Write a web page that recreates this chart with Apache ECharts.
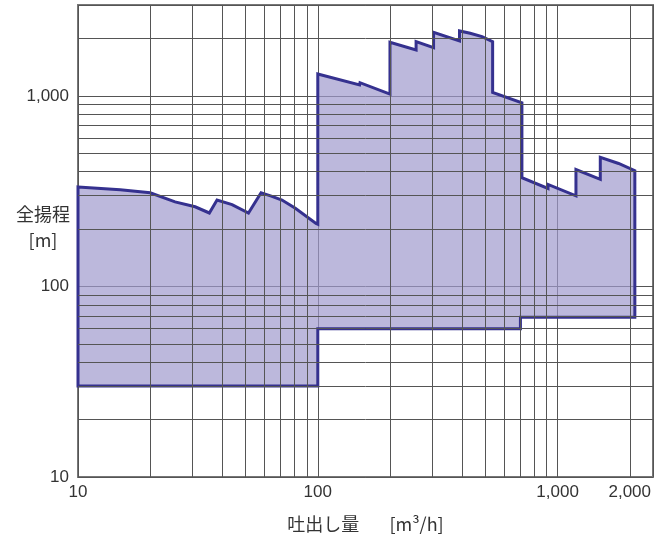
<!DOCTYPE html>
<html><head><meta charset="utf-8">
<script src="https://cdn.jsdelivr.net/npm/echarts@6/dist/echarts.min.js"></script>
<style>html,body{margin:0;padding:0;background:#fff}#c{width:669px;height:540px}</style>
</head><body><div id="c"></div>
<script>
// Upper boundary of the operating range (flow m3/h, head m), left to right
const flowUpper = [10, 15, 20, 25.4, 30.8, 35.3, 38, 43.9, 51.4, 58, 64, 70.9, 80.6, 98.3, 100,
  100, 149.4, 150, 200, 200, 257, 257, 304, 304, 390, 390, 432, 484, 536, 536, 710, 710,
  912, 912, 1193, 1193, 1507, 1507, 1797, 2100];
const headUpper = [333, 322, 310, 278, 262, 243, 284, 269, 243, 310, 298, 284, 257, 214, 212,
  1303, 1141, 1173, 1023, 1912, 1742, 1926, 1792, 2159, 1943, 2193, 2133, 2047, 1926, 1044, 921, 372,
  327, 343, 299, 411, 365, 476, 442, 405];
// Lower boundary, right to left
const flowLower = [2100, 700, 700, 100, 100, 10];
const headLower = [69, 69, 60, 60, 30, 30];
// Axis ranges and grid / label values
const xRange = [10, 2500];
const yRange = [10, 3000];
const xMinorGrid = [20, 30, 40, 50, 60, 70, 80, 90, 200, 300, 400, 500, 600, 700, 800, 900, 2000];
const yMinorGrid = [20, 30, 40, 50, 60, 70, 80, 90, 200, 300, 400, 500, 600, 700, 800, 900, 2000];
const xExtraLabels = [2000];
const xTitle = '吐出し量\u3000   [m\u00b3/h]';
const yTitle = '全揚程\n[m]';

const numFmt = v => Math.round(v).toLocaleString('en-US');
const FONT = '"Liberation Sans", Arial, "Noto Sans CJK JP", sans-serif';
const CJK = '"Noto Sans CJK JP", sans-serif';
const gridColor = '#555555';

const chart = echarts.init(document.getElementById('c'), null, {renderer: 'canvas'});

const markData = [];
xMinorGrid.forEach(v => {
  const item = {xAxis: v};
  if (xExtraLabels.indexOf(v) >= 0) {
    item.label = {show: true, position: 'start', formatter: numFmt(v), distance: 7,
      fontSize: 17, color: '#333', fontFamily: FONT};
  }
  markData.push(item);
});
yMinorGrid.forEach(v => markData.push({yAxis: v}));

chart.setOption({
  animation: false,
  title: {
    text: yTitle, left: 43, top: 201, textAlign: 'center', padding: 0,
    textStyle: {fontSize: 18, fontWeight: 'normal', color: '#333', fontFamily: CJK, lineHeight: 26}
  },
  grid: {left: 78, right: 16, top: 5, bottom: 63, containLabel: false, outerBoundsMode: 'none',
    show: true, borderColor: '#777', borderWidth: 2, backgroundColor: 'transparent'},
  xAxis: {
    type: 'log', logBase: 10, min: xRange[0], max: xRange[1],
    name: xTitle, nameLocation: 'middle', nameGap: 37,
    nameTextStyle: {fontSize: 18, color: '#333', fontFamily: CJK, lineHeight: 20, verticalAlign: 'top'},
    axisLine: {show: false}, axisTick: {show: false},
    axisLabel: {showMaxLabel: false, showMinLabel: true, fontSize: 17, color: '#333', fontFamily: FONT, margin: 7, formatter: numFmt},
    splitLine: {show: true, lineStyle: {color: gridColor, width: 1}}
  },
  yAxis: {
    type: 'log', logBase: 10, min: yRange[0], max: yRange[1],
    axisLine: {show: false}, axisTick: {show: false},
    axisLabel: {showMaxLabel: false, showMinLabel: true, fontSize: 17, color: '#333', fontFamily: FONT, margin: 9, formatter: numFmt},
    splitLine: {show: true, lineStyle: {color: gridColor, width: 1}}
  },
  series: [
    {
      type: 'line', data: [], z: 1, silent: true,
      markLine: {
        silent: true, symbol: 'none', animation: false,
        lineStyle: {color: gridColor, width: 1, type: 'solid'},
        label: {show: false},
        emphasis: {disabled: true},
        data: markData
      }
    },
    {
      type: 'custom', z: 3, silent: true,
      data: [[flowLower[flowLower.length - 1], headLower[headLower.length - 1]]],
      encode: {x: 0, y: 1},
      renderItem: function (params, api) {
        const pts = [];
        for (let i = 0; i < flowUpper.length; i++) pts.push(api.coord([flowUpper[i], headUpper[i]]));
        for (let i = 0; i < flowLower.length; i++) pts.push(api.coord([flowLower[i], headLower[i]]));
        return {
          type: 'polygon', shape: {points: pts},
          style: {fill: 'rgba(159,154,205,0.7)', stroke: '#35318f', lineWidth: 3, lineJoin: 'miter'}
        };
      }
    }
  ]
});
</script></body></html>
